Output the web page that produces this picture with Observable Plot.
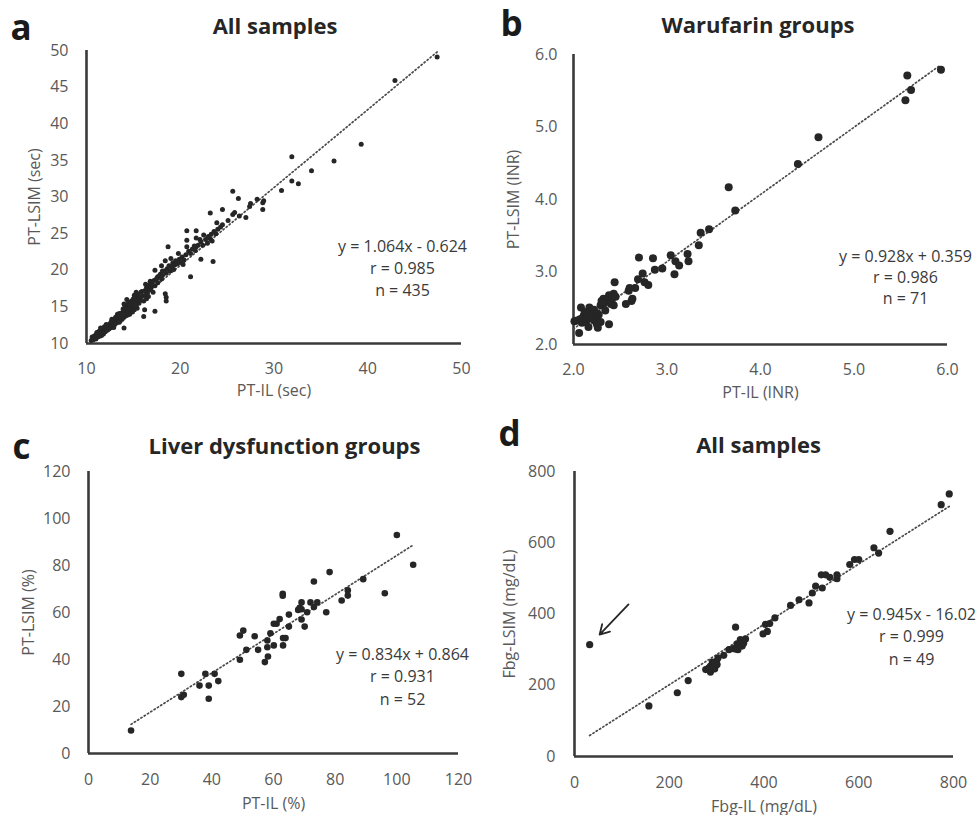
<!DOCTYPE html>
<html><head><meta charset="utf-8">
<script src="https://cdn.jsdelivr.net/npm/d3@7"></script>
<script src="https://cdn.jsdelivr.net/npm/@observablehq/plot@0.6"></script>
<style>
html,body{margin:0;padding:0;background:#fff;}
#root{position:relative;width:977px;height:815px;overflow:hidden;font-family:"Open Sans",sans-serif;}
.panel{position:absolute;}
.panel svg{overflow:visible;}
</style></head><body><div id="root"></div>
<script>
// ---------- Panel a: PT (sec), all samples ----------
const ptSecPoints = [
 [47.4,49.1],[42.9,45.9],[39.3,37.2],[36.4,34.9],[34.0,33.6],[31.9,35.5],[31.9,32.2],[32.6,31.8],[30.8,30.9],[25.6,30.8],
 [26.2,29.8],[28.2,29.7],[28.9,29.5],[28.8,29.2],[28.8,28.3],[27.5,29.1],[27.4,28.7],[27.0,27.2],[26.3,27.4],[25.8,27.9],
 [25.6,27.6],[25.1,26.8],[24.5,26.2],[24.5,28.3],[23.2,27.8],[23.9,26.5],[23.8,25.0],[22.5,24.8],[21.7,25.4],[20.7,25.4],
 [21.7,24.4],[22.1,24.2],[23.2,24.3],[23.4,24.0],[22.9,23.7],[20.7,24.1],[20.7,23.2],[21.7,23.2],[18.7,23.2],[22.2,21.5],
 [23.5,21.2],[21.1,19.1],[18.4,21.3],[17.3,20.0],[18.4,16.8],[18.5,16.3],[18.5,15.8],[17.3,14.4],[16.1,13.7],[14.0,12.1],
 [16.2,14.6],
 [17.6,19.1],[17.9,19.5],[18.1,19.3],[18.3,19.9],[18.5,19.6],[18.6,20.2],[18.8,20.6],[18.9,19.9],[19.1,20.4],[19.2,21.0],
 [19.4,20.7],[19.5,21.3],[19.7,20.9],[19.9,21.5],[20.0,21.1],[20.2,21.8],[20.4,21.4],[20.6,22.1],[20.9,22.6],[21.1,22.3],
 [21.3,22.9],[21.5,23.3],[21.6,22.7],[21.9,23.4],[22.2,23.9],[22.4,23.4],[22.7,24.2],[23.0,24.6],[23.3,24.9],[23.6,25.3],
 [24.0,25.6],[24.3,25.9],[19.0,21.6],[19.8,22.3],[20.3,20.8],[19.3,20.1],[18.0,20.6],[17.4,18.7],[16.9,18.2],[16.8,18.5],
 [16.3,18.1],[15.5,16.3],[15.3,17.0],[14.3,16.0],
 [10.5,10.4],[10.6,10.9],[10.7,10.5],[10.8,11.0],[10.9,10.7],[11.0,11.2],[11.0,10.6],[11.1,11.0],[11.2,11.5],[11.2,10.9],
 [11.3,11.3],[11.4,11.0],[11.4,11.7],[11.5,11.4],[11.6,11.1],[11.6,11.9],[11.7,11.5],[11.8,12.0],[11.8,11.3],[11.9,11.8],
 [12.0,12.2],[12.0,11.6],[12.1,12.0],[12.2,12.4],[12.2,11.8],[12.3,12.2],[12.4,12.6],[12.4,12.0],[12.5,12.4],[12.6,12.9],
 [12.6,12.2],[12.7,12.6],[12.8,13.0],[12.8,12.3],[12.9,12.8],[13.0,13.3],[13.0,12.6],[13.1,13.0],[13.2,13.5],[13.2,12.8],
 [13.3,13.2],[13.4,13.7],[13.4,13.0],[13.5,13.4],[13.5,14.1],[13.6,13.8],[13.6,13.1],[13.7,13.6],[13.8,14.2],[13.8,13.3],
 [13.9,13.9],[14.0,14.6],[14.0,13.6],[14.1,14.1],[14.1,15.0],[14.2,14.5],[14.2,13.8],[14.3,15.3],[14.3,14.2],[14.4,14.8],
 [14.4,13.9],[14.5,15.6],[14.5,14.5],[14.6,15.1],[14.6,14.0],[14.7,14.8],[14.8,15.8],[14.8,14.4],[14.9,15.2],[15.0,15.0],
 [15.0,16.1],[15.1,14.6],[15.2,15.6],[15.2,16.4],[15.3,15.2],[15.4,15.9],[15.4,14.8],[15.5,16.7],[15.6,15.5],[15.7,16.3],
 [15.8,15.9],[15.9,17.1],[16.0,16.5],[16.1,15.8],[16.2,17.2],[16.3,16.6],[16.4,17.6],[16.5,16.9],[16.6,17.9],[16.7,17.3],
 [16.8,18.4],[16.9,17.6],[17.0,18.1],[17.2,18.6],[17.3,17.9],[17.5,18.9],[17.6,18.3],[17.8,19.3],[18.0,18.8],[18.1,19.9],
 [10.8,10.6],[11.3,11.6],[11.9,12.3],[12.5,12.1],[13.1,13.6],[13.7,14.0],[14.9,14.3],[15.6,16.0],[16.4,16.1],[12.3,11.9],
 [11.5,12.1],[12.7,13.3],[13.3,14.0],[13.9,14.7],[14.7,15.4],[15.1,16.6],[15.8,17.0],[16.6,16.4],[17.1,17.0],[12.9,12.2],
 [13.5,12.9],[14.4,14.2],[11.1,11.5],[12.1,12.6],[14.0,15.4]
];
const ptSecFit = [[10.5,10.55],[47.4,49.8]];
const ptSecTicksX = [10,20,30,40,50];
const ptSecTicksY = [10,15,20,25,30,35,40,45,50];
const ptSecAnn = ["y = 1.064x - 0.624","r = 0.985","n = 435"];

// ---------- Panel b: PT (INR), warfarin groups ----------
const ptInrPoints = [
 [5.93,5.79],[5.57,5.71],[5.61,5.51],[5.55,5.37],[4.62,4.86],[4.40,4.49],[3.66,4.17],[3.73,3.85],[3.45,3.59],[3.36,3.54],
 [3.34,3.37],[3.22,3.25],[3.23,3.15],[3.04,3.23],[3.09,3.15],[3.13,3.09],[3.08,2.97],[2.95,3.05],[2.87,3.03],[2.85,3.19],
 [2.70,3.20],[2.74,2.98],[2.69,2.90],[2.76,2.86],[2.80,2.82],[2.66,2.78],[2.60,2.78],[2.59,2.74],[2.63,2.63],[2.62,2.60],
 [2.56,2.56],[2.44,2.86],[2.43,2.70],[2.43,2.54],[2.38,2.68],[2.32,2.63],[2.30,2.60],[2.29,2.54],[2.38,2.28],[2.29,2.31],
 [2.25,2.28],[2.26,2.23],[2.16,2.24],[2.06,2.16],[2.01,2.32],[2.08,2.51],[2.17,2.51],[2.18,2.45],[2.22,2.48],[2.11,2.40],
 [2.07,2.35],[2.15,2.35],[2.20,2.40],[2.25,2.43],[2.13,2.31],[2.22,2.33],[2.32,2.56],[2.36,2.61],[2.34,2.47],[2.10,2.37],
 [2.12,2.45],[2.19,2.38],[2.27,2.41],[2.04,2.33],[2.09,2.30],[2.14,2.43],[2.24,2.36],[2.41,2.62],[2.45,2.66],[2.31,2.58],
 [2.40,2.56]
];
const ptInrFit = [[2.0,2.215],[5.91,5.84]];
const ptInrTicks = [2,3,4,5,6];
const ptInrAnn = ["y = 0.928x + 0.359","r = 0.986","n = 71"];

// ---------- Panel c: PT (%), liver dysfunction groups ----------
const ptPctPoints = [
 [100,93],[105.3,80.3],[78.2,77.2],[73.1,73.2],[89.1,74.2],[96.1,68.2],[63.0,68.0],[63.0,67.1],[84.1,69.4],[84.1,67.2],
 [82.1,65.1],[77.1,60.1],[74.2,64.3],[72.0,64.3],[73.1,62.3],[69.1,64.3],[69.1,61.4],[70.9,60.1],[68.0,61.1],[65.0,59.1],
 [69.1,57.0],[70.1,54.0],[65.0,54.0],[62.0,57.2],[61.0,55.2],[60.1,55.2],[59.0,51.2],[58.0,48.1],[63.1,49.1],[63.9,49.1],
 [63.1,46.0],[60.1,46.0],[58.0,45.2],[58.2,41.3],[57.2,38.9],[55.0,44.1],[53.9,49.9],[50.2,52.3],[49.1,50.2],[51.2,44.1],
 [49.1,39.9],[40.9,33.9],[37.9,33.9],[30.1,33.9],[42.1,30.8],[39.0,28.9],[36.0,28.9],[39.0,23.3],[30.9,25.0],[30.1,24.0],
 [13.8,9.8],[68.5,62.0]
];
const ptPctFit = [[13.8,12.4],[105.3,88.7]];
const ptPctTicks = [0,20,40,60,80,100,120];
const ptPctAnn = ["y = 0.834x + 0.864","r = 0.931","n = 52"];

// ---------- Panel d: Fibrinogen (mg/dL), all samples ----------
const fbgPoints = [
 [791,737],[774,707],[666,632],[632,586],[642,571],[581,539],[591,553],[600,553],[521,510],[530,510],
 [539,503],[554,510],[554,499],[523,473],[509,478],[502,459],[474,440],[495,431],[456,424],[423,389],
 [412,373],[403,371],[407,351],[398,344],[340,363],[361,330],[350,328],[354,310],[340,302],[326,300],
 [315,284],[303,277],[301,258],[291,265],[287,254],[277,244],[287,237],[296,246],[240,213],[217,179],
 [157,142],[32,314],[343,316],[357,318],[345,300],[300,268],[283,248],[335,303],[296,262]
];
const fbgFit = [[32,59],[791,702]];
const fbgTicks = [0,200,400,600,800];
const fbgAnn = ["y = 0.945x - 16.02","r = 0.999","n = 49"];
const fbgArrow = [{x1:114, y1:427, x2:53, y2:342}];

// ---------- layout (page pixels) ----------
const layouts = {
 a:{ox:0,oy:0,w:490,h:408,mL:86,mR:29,mT:50,mB:65,xPad:19,yPad:18,xLab:52.5,yLab:58,
    titleX:274.5,titleY:33,letX:10,letY:39,annX:402,annY:295,annLH:22},
 b:{ox:490,oy:0,w:487,h:408,mL:83,mR:30,mT:54,mB:64,xPad:19.5,yPad:16,xLab:53.5,yLab:66,
    titleX:757.5,titleY:32,letX:500,letY:35,annX:905,annY:303.5,annLH:21},
 c:{ox:0,oy:408,w:490,h:407,mL:88,mR:32,mT:63,mB:62,xPad:20,yPad:18,xLab:55,yLab:66,
    titleX:284,titleY:453,letX:12,letY:458,annX:402,annY:704,annLH:22.5},
 d:{ox:490,oy:408,w:487,h:407,mL:84,mR:24,mT:63,mB:59,xPad:20,yPad:19,xLab:55,yLab:71,
    titleX:758,titleY:452,letX:498,letY:445,annX:911,annY:664,annLH:22.5}
};

function panel(cfg) {
  const L = cfg.L;
  const fx = px => px - L.ox - L.mL;
  const fy = py => py - L.oy - L.mT;
  const marks = [
    Plot.ruleX([cfg.xDomain[0]], {stroke:"#3a3a3a", strokeWidth:2.6}),
    Plot.ruleY([cfg.yDomain[0]], {stroke:"#3a3a3a", strokeWidth:2.6}),
    Plot.line(cfg.fit, {x:d=>d[0], y:d=>d[1], stroke:"#4a4a4a", strokeWidth:1.7, strokeDasharray:"1.3,2.6"}),
    Plot.dot(cfg.data, {x:d=>d[0], y:d=>d[1], r:cfg.r, fill:"#262626", stroke:"none"}),
    Plot.axisX({ticks:cfg.xTicks, tickSize:0, tickPadding:L.xPad, tickFormat:cfg.fmt, fontSize:16, label:null}),
    Plot.axisY({ticks:cfg.yTicks, tickSize:0, tickPadding:L.yPad, tickFormat:cfg.fmt, fontSize:16, label:null}),
    Plot.axisX({ticks:[], tickSize:0, label:cfg.xLabel, labelAnchor:"center", labelOffset:L.xLab, labelArrow:"none", fontSize:16}),
    Plot.axisY({ticks:[], tickSize:0, label:cfg.yLabel, labelAnchor:"center", labelOffset:L.yLab, labelArrow:"none", fontSize:16}),
    Plot.text([cfg.title], {text:d=>d, frameAnchor:"top-left", dx:fx(L.titleX), dy:fy(L.titleY), textAnchor:"middle", lineAnchor:"bottom", fontSize:22, fontWeight:"bold", fill:"#262626"}),
    Plot.text([cfg.letter], {text:d=>d, frameAnchor:"top-left", dx:fx(L.letX), dy:fy(L.letY), textAnchor:"start", lineAnchor:"bottom", fontSize:35, fontWeight:"bold", fill:"#1a1a1a"}),
    Plot.text([cfg.ann.join("\n")], {text:d=>d, frameAnchor:"top-left", dx:fx(L.annX), dy:fy(L.annY), textAnchor:"middle", lineAnchor:"bottom", lineHeight:L.annLH/16, fontSize:16, fill:"#3a3a3a"})
  ];
  if (cfg.arrow) marks.push(Plot.arrow(cfg.arrow, {x1:"x1", y1:"y1", x2:"x2", y2:"y2", stroke:"#262626", strokeWidth:1.8, headLength:9}));
  const svg = Plot.plot({
    width:L.w, height:L.h, marginLeft:L.mL, marginRight:L.mR, marginTop:L.mT, marginBottom:L.mB,
    x:{domain:cfg.xDomain, axis:null}, y:{domain:cfg.yDomain, axis:null},
    style:{fontFamily:"'Open Sans', sans-serif", fontSize:"16px", color:"#595959", background:"transparent", overflow:"visible"},
    marks
  });
  const div = document.createElement("div");
  div.className = "panel";
  div.style.left = L.ox + "px"; div.style.top = L.oy + "px"; div.style.width = L.w + "px"; div.style.height = L.h + "px";
  div.appendChild(svg);
  document.getElementById("root").appendChild(div);
}

const f1 = d3.format(".1f");
panel({L:layouts.a, data:ptSecPoints, r:2.5, fit:ptSecFit, xDomain:[10,50], yDomain:[10,50], xTicks:ptSecTicksX, yTicks:ptSecTicksY,
  fmt:d=>d, xLabel:"PT-IL (sec)", yLabel:"PT-LSIM (sec)", title:"All samples", letter:"a", ann:ptSecAnn});
panel({L:layouts.b, data:ptInrPoints, r:4, fit:ptInrFit, xDomain:[2,6], yDomain:[2,6], xTicks:ptInrTicks, yTicks:ptInrTicks,
  fmt:f1, xLabel:"PT-IL (INR)", yLabel:"PT-LSIM (INR)", title:"Warufarin groups", letter:"b", ann:ptInrAnn});
panel({L:layouts.c, data:ptPctPoints, r:3.3, fit:ptPctFit, xDomain:[0,120], yDomain:[0,120], xTicks:ptPctTicks, yTicks:ptPctTicks,
  fmt:d=>d, xLabel:"PT-IL (%)", yLabel:"PT-LSIM (%)", title:"Liver dysfunction groups", letter:"c", ann:ptPctAnn});
panel({L:layouts.d, data:fbgPoints, r:3.6, fit:fbgFit, xDomain:[0,800], yDomain:[0,800], xTicks:fbgTicks, yTicks:fbgTicks,
  fmt:d=>d, xLabel:"Fbg-IL (mg/dL)", yLabel:"Fbg-LSIM (mg/dL)", title:"All samples", letter:"d", ann:fbgAnn, arrow:fbgArrow});
</script></body></html>
